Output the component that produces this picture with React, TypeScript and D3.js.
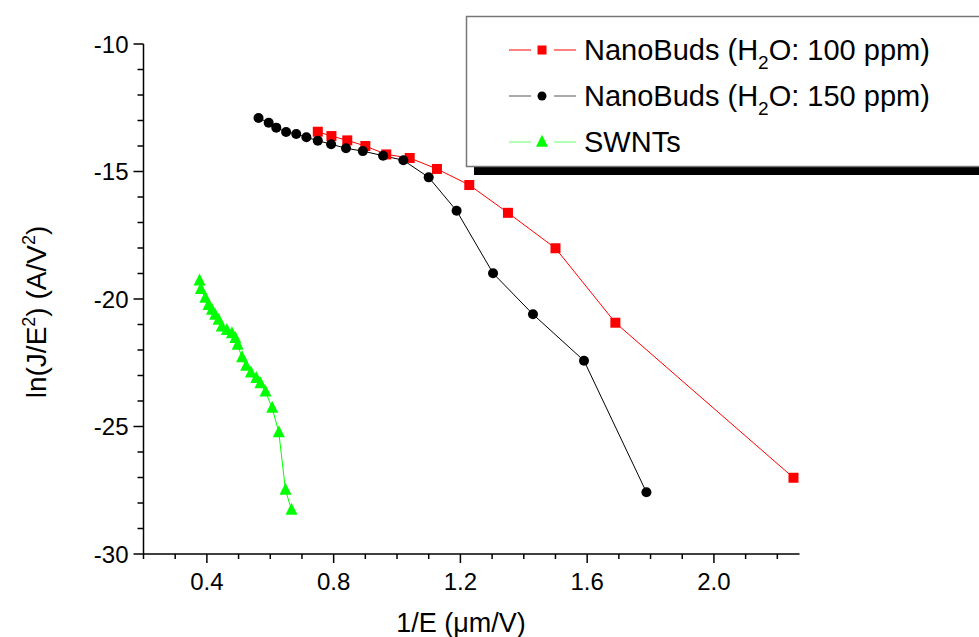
import React from "react";
import * as d3 from "d3";

const redX = [0.750, 0.793, 0.843, 0.900, 0.966, 1.040, 1.126, 1.228, 1.350, 1.500, 1.689, 2.251];
const redY = [-13.44, -13.61, -13.78, -14.00, -14.33, -14.47, -14.90, -15.53, -16.62, -18.01, -20.93, -27.01];

const blackX = [0.563, 0.595, 0.619, 0.650, 0.682, 0.714, 0.750, 0.792, 0.839, 0.892, 0.956, 1.020, 1.100, 1.188, 1.303, 1.429, 1.590, 1.787];
const blackY = [-12.90, -13.09, -13.28, -13.45, -13.53, -13.66, -13.79, -13.93, -14.09, -14.20, -14.38, -14.56, -15.23, -16.54, -18.99, -20.60, -22.42, -27.58];

const greenX = [0.377, 0.381, 0.395, 0.405, 0.416, 0.426, 0.437, 0.447, 0.463, 0.479, 0.490, 0.497, 0.511, 0.524, 0.539, 0.556, 0.569, 0.585, 0.606, 0.627, 0.648, 0.667];
const greenY = [-19.28, -19.62, -19.96, -20.24, -20.43, -20.63, -20.82, -21.09, -21.22, -21.35, -21.54, -21.80, -22.29, -22.63, -22.89, -23.11, -23.31, -23.64, -24.27, -25.23, -27.49, -28.27];

const xMajorTicks = [0.4, 0.8, 1.2, 1.6, 2.0];
const xMinorTicks = [0.2, 0.3, 0.5, 0.6, 0.7, 0.9, 1.0, 1.1, 1.3, 1.4, 1.5, 1.7, 1.8, 1.9, 2.1, 2.2];
const yMajorTicks = [-10, -15, -20, -25, -30];
const yMinorTicks = [-11, -12, -13, -14, -16, -17, -18, -19, -21, -22, -23, -24, -26, -27, -28, -29];

const legendLabels = ["NanoBuds (H", "NanoBuds (H", "SWNTs"];

const FONT = "'Liberation Sans', Arial, sans-serif";

export default function App() {
  const x = d3.scaleLinear().domain([0.2, 2.27]).range([143.5, 799.5]);
  const y = d3.scaleLinear().domain([-10, -30]).range([44, 554]);
  const line = d3.line<[number, number]>().x(d => x(d[0])).y(d => y(d[1]));

  const red = redX.map((v, i) => [v, redY[i]] as [number, number]);
  const black = blackX.map((v, i) => [v, blackY[i]] as [number, number]);
  const green = greenX.map((v, i) => [v, greenY[i]] as [number, number]);

  const tri = (cx: number, cy: number, s: number) =>
    `M${cx},${cy - s * 0.6}L${cx + s / 2},${cy + s * 0.4}L${cx - s / 2},${cy + s * 0.4}Z`;

  const yAxisX = x(0.2);
  const xAxisY = y(-30);

  const legendRows = [50, 96, 142];

  return (
    <svg width={979} height={637} style={{ position: "absolute", left: 0, top: 0, background: "#fff" }} fontFamily={FONT}>
      {/* series lines */}
      <path d={line(green) || ""} fill="none" stroke="#00ff00" strokeWidth={1} />
      <path d={line(red) || ""} fill="none" stroke="#ff0000" strokeWidth={1} />
      <path d={line(black) || ""} fill="none" stroke="#000" strokeWidth={1} />
      {green.map((d, i) => (
        <path key={"g" + i} d={tri(x(d[0]), y(d[1]), 12)} fill="#00ff00" />
      ))}
      {red.map((d, i) => (
        <rect key={"r" + i} x={x(d[0]) - 5} y={y(d[1]) - 5} width={10} height={10} fill="#ff0000" />
      ))}
      {black.map((d, i) => (
        <circle key={"b" + i} cx={x(d[0])} cy={y(d[1])} r={5} fill="#000" />
      ))}

      {/* axes */}
      <line x1={yAxisX} x2={yAxisX} y1={y(-10)} y2={xAxisY} stroke="#000" strokeWidth={1.5} />
      <line x1={yAxisX} x2={x(2.27)} y1={xAxisY} y2={xAxisY} stroke="#000" strokeWidth={1.5} />
      {xMajorTicks.map(t => (
        <g key={"xm" + t}>
          <line x1={x(t)} x2={x(t)} y1={xAxisY} y2={xAxisY + 9} stroke="#000" strokeWidth={1.5} />
          <text x={x(t)} y={xAxisY + 36} textAnchor="middle" fontSize={24}>{t.toFixed(1)}</text>
        </g>
      ))}
      {xMinorTicks.map(t => (
        <line key={"xn" + t} x1={x(t)} x2={x(t)} y1={xAxisY} y2={xAxisY + 5} stroke="#000" strokeWidth={1.5} />
      ))}
      {yMajorTicks.map(t => (
        <g key={"ym" + t}>
          <line x1={yAxisX - 10} x2={yAxisX} y1={y(t)} y2={y(t)} stroke="#000" strokeWidth={1.5} />
          <text x={yAxisX - 15} y={y(t) + 8.5} textAnchor="end" fontSize={24}>{t}</text>
        </g>
      ))}
      {yMinorTicks.map(t => (
        <line key={"yn" + t} x1={yAxisX - 6} x2={yAxisX} y1={y(t)} y2={y(t)} stroke="#000" strokeWidth={1.5} />
      ))}

      {/* axis titles */}
      <text x={461} y={632} textAnchor="middle" fontSize={27}>1/E (μm/V)</text>
      <text transform="translate(46,312) rotate(-90)" textAnchor="middle" fontSize={28}>
        ln(J/E<tspan dy={-11} fontSize={18}>2</tspan><tspan dy={11}>) (A/V</tspan><tspan dy={-11} fontSize={18}>2</tspan><tspan dy={11}>)</tspan>
      </text>

      {/* legend */}
      <rect x={474} y={166} width={520} height={9} fill="#000" />
      <rect x={466.5} y={16.5} width={530} height={150} fill="#fff" stroke="#777" strokeWidth={1.5} />
      {legendRows.map((ry, i) => {
        const col = i === 0 ? "#ff0000" : i === 1 ? "#555" : "#66ff66";
        return (
          <g key={"lg" + i}>
            <line x1={509} x2={531} y1={ry} y2={ry} stroke={col} strokeWidth={1} />
            <line x1={554} x2={576} y1={ry} y2={ry} stroke={col} strokeWidth={1} />
            {i === 0 && <rect x={537.5} y={ry - 4.5} width={9} height={9} fill="#ff0000" />}
            {i === 1 && <circle cx={542} cy={ry} r={4.5} fill="#000" />}
            {i === 2 && <path d={tri(542, ry, 12)} fill="#00ff00" />}
            <text x={584} y={ry + 10} fontSize={29}>
              {legendLabels[i]}
              {i < 2 && <tspan dy={9} fontSize={19}>2</tspan>}
              {i < 2 && <tspan dy={-9}>{i === 0 ? "O: 100 ppm)" : "O: 150 ppm)"}</tspan>}
            </text>
          </g>
        );
      })}
    </svg>
  );
}
